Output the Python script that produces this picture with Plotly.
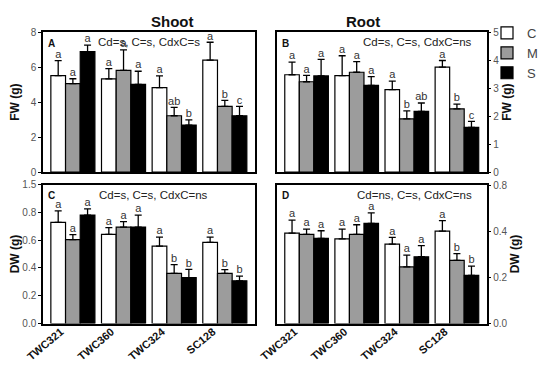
import numpy as np
import plotly.graph_objects as go

genotypes = ["TWC321", "TWC360", "TWC324", "SC128"]
treatments = ["C", "M", "S"]
bar_colors = {"C": "#ffffff", "M": "#9c9c9c", "S": "#000000"}

# Panel A: Shoot FW (g)
shoot_fw = {"C": [5.52, 5.33, 4.83, 6.41], "M": [5.06, 5.82, 3.22, 3.76], "S": [6.89, 5.02, 2.69, 3.22]}
shoot_fw_err = {"C": [0.86, 0.59, 0.67, 1.02], "M": [0.28, 1.17, 0.48, 0.34], "S": [0.38, 0.75, 0.29, 0.54]}
shoot_fw_let = {"C": ["a", "a", "a", "a"], "M": ["a", "a", "ab", "b"], "S": ["a", "a", "b", "c"]}

# Panel B: Root FW (g)
root_fw = {"C": [3.48, 3.45, 2.95, 3.75], "M": [3.23, 3.57, 1.90, 2.26], "S": [3.44, 3.10, 2.17, 1.60]}
root_fw_err = {"C": [0.45, 0.71, 0.30, 0.24], "M": [0.23, 0.38, 0.29, 0.17], "S": [0.59, 0.31, 0.30, 0.21]}
root_fw_let = {"C": ["a", "a", "a", "a"], "M": ["a", "a", "b", "b"], "S": ["a", "a", "ab", "c"]}

# Panel C: Shoot DW (g)
shoot_dw = {"C": [0.728, 0.641, 0.557, 0.584], "M": [0.603, 0.694, 0.360, 0.360], "S": [0.780, 0.694, 0.330, 0.307]}
shoot_dw_err = {"C": [0.082, 0.049, 0.065, 0.038], "M": [0.037, 0.039, 0.063, 0.027], "S": [0.044, 0.086, 0.060, 0.034]}
shoot_dw_let = {"C": ["a", "a", "a", "a"], "M": ["a", "a", "b", "b"], "S": ["a", "a", "b", "b"]}

# Panel D: Root DW (g)
root_dw = {"C": [0.393, 0.368, 0.345, 0.401], "M": [0.387, 0.387, 0.246, 0.274], "S": [0.370, 0.435, 0.290, 0.209]}
root_dw_err = {"C": [0.056, 0.042, 0.029, 0.046], "M": [0.023, 0.042, 0.051, 0.030], "S": [0.033, 0.046, 0.048, 0.040]}
root_dw_let = {"C": ["a", "a", "a", "a"], "M": ["a", "a", "a", "b"], "S": ["a", "a", "a", "b"]}

stats_text = ["Cd=s, C=s, CdxC=s", "Cd=s, C=s, CdxC=ns", "Cd=s, C=s, CdxC=ns", "Cd=ns, C=s, CdxC=ns"]
panel_letters = ["A", "B", "C", "D"]

# y-axis ticks (the original figure labels its top ticks as printed)
fw_shoot_ticks = [0, 2, 4, 6, 8]
fw_root_ticks = [0, 1, 2, 3, 4, 5]
dw_shoot_tickvals = [0.0, 0.2, 0.4, 0.6, 0.8, 1.0]
dw_shoot_ticktext = ["0.0", "0.2", "0.4", "0.6", "0.8", "1.5"]
dw_root_tickvals = [0.0, 0.2, 0.4, 0.6]
dw_root_ticktext = ["0.0", "0.2", "0.4", "0.8"]

FONT = "Liberation Sans, Arial, sans-serif"
W, H = 550, 366
bw = 0.29
xidx = np.arange(len(genotypes))

panels = [
    (shoot_fw, shoot_fw_err, shoot_fw_let, "x", "y"),
    (root_fw, root_fw_err, root_fw_let, "x2", "y2"),
    (shoot_dw, shoot_dw_err, shoot_dw_let, "x3", "y3"),
    (root_dw, root_dw_err, root_dw_let, "x4", "y4"),
]

fig = go.Figure()
for p, (vals, errs, lets, xa, ya) in enumerate(panels):
    for k, t in enumerate(treatments):
        xs = xidx + (k - 1) * bw
        v = np.array(vals[t])
        e = np.array(errs[t])
        fig.add_trace(go.Bar(
            x=xs, y=v, width=bw, name=t, xaxis=xa, yaxis=ya,
            marker=dict(color=bar_colors[t], line=dict(color="black", width=1.2)),
            error_y=dict(type="data", array=e, arrayminus=np.zeros_like(e), symmetric=False,
                         color="black", thickness=1.3, width=3.5),
            showlegend=(p == 0), legendgroup=t,
        ))
        fig.add_trace(go.Scatter(
            x=xs, y=v + e, mode="text", text=lets[t], textposition="top center",
            textfont=dict(family=FONT, size=11, color="#333333"),
            xaxis=xa, yaxis=ya, showlegend=False, hoverinfo="skip", cliponaxis=False,
        ))

dom_x = [[35 / W, 246.7 / W], [269 / W, 478.5 / W]]
dom_y_top = [(H - 164) / H, (H - 24.3) / H]
dom_y_bot = [(H - 315.5) / H, (H - 176.5) / H]

axis_common = dict(showline=True, linecolor="black", linewidth=1.5, mirror=True,
                   showgrid=False, zeroline=False, automargin=False)
xr = [-0.59, 3.59]
tickfont = dict(family=FONT, size=10, color="#555555")
xtickfont = dict(family=FONT, size=11, color="#111111", weight="bold")
ytitlefont = dict(family=FONT, size=12, color="#111111", weight="bold")

fig.update_layout(
    width=W, height=H, margin=dict(l=0, r=0, t=0, b=0),
    plot_bgcolor="white", paper_bgcolor="white",
    barmode="overlay",
    font=dict(family=FONT),
    xaxis=dict(domain=dom_x[0], anchor="y", range=xr, showticklabels=False, ticks="",
               tickvals=list(xidx), **axis_common),
    xaxis2=dict(domain=dom_x[1], anchor="y2", range=xr, showticklabels=False, ticks="",
                tickvals=list(xidx), **axis_common),
    xaxis3=dict(domain=dom_x[0], anchor="y3", range=xr, ticks="", tickvals=list(xidx),
                ticktext=genotypes, tickangle=-40, tickfont=xtickfont, ticklabelstandoff=-4,
                ticklabelshift=-12, **axis_common),
    xaxis4=dict(domain=dom_x[1], anchor="y4", range=xr, ticks="", tickvals=list(xidx),
                ticktext=genotypes, tickangle=-40, tickfont=xtickfont, ticklabelstandoff=-4,
                ticklabelshift=-12, **axis_common),
    yaxis=dict(domain=dom_y_top, anchor="x", range=[0, 8], tickvals=fw_shoot_ticks,
               ticks="outside", ticklen=3, tickcolor="black", tickfont=tickfont,
               title=dict(text="FW (g)", font=ytitlefont, standoff=10), **axis_common),
    yaxis2=dict(domain=dom_y_top, anchor="x2", side="right", range=[0, 5], tickvals=fw_root_ticks,
                ticks="outside", ticklen=3, tickcolor="black", tickfont=tickfont,
                title=dict(text="FW (g)", font=ytitlefont, standoff=4), **axis_common),
    yaxis3=dict(domain=dom_y_bot, anchor="x3", range=[0, 1.0], tickvals=dw_shoot_tickvals,
                ticktext=dw_shoot_ticktext, ticks="outside", ticklen=3, tickcolor="black",
                tickfont=tickfont, title=dict(text="DW (g)", font=ytitlefont, standoff=4), **axis_common),
    yaxis4=dict(domain=dom_y_bot, anchor="x4", side="right", range=[0, 0.604], tickvals=dw_root_tickvals,
                ticktext=dw_root_ticktext, ticks="outside", ticklen=3, tickcolor="black",
                tickfont=tickfont, title=dict(text="DW (g)", font=ytitlefont, standoff=0), **axis_common),
    legend=dict(x=479 / W, y=1 - 10 / H, xanchor="left", yanchor="top",
                font=dict(family=FONT, size=13, color="#444444"), tracegroupgap=0,
                itemwidth=30, bgcolor="rgba(0,0,0,0)", itemclick=False, borderwidth=0),
)

# Column titles
for txt, xd in [("Shoot", dom_x[0]), ("Root", dom_x[1])]:
    fig.add_annotation(text="<b>" + txt + "</b>", x=(xd[0] + xd[1]) / 2, y=1 - 13 / H,
                       xref="paper", yref="paper", showarrow=False,
                       font=dict(family=FONT, size=15, color="#111111"), yanchor="middle")

# Panel letters and statistics
refs = [("x domain", "y domain"), ("x2 domain", "y2 domain"), ("x3 domain", "y3 domain"), ("x4 domain", "y4 domain")]
stat_pos = [(0.5, "center"), (0.94, "right"), (0.52, "center"), (0.94, "right")]
for i, (xr_, yr_) in enumerate(refs):
    fig.add_annotation(text="<b>" + panel_letters[i] + "</b>", x=0.015, y=0.975, xref=xr_, yref=yr_,
                       xanchor="left", yanchor="top", showarrow=False,
                       font=dict(family=FONT, size=10, color="#111111"))
    fig.add_annotation(text=stats_text[i], x=stat_pos[i][0], y=0.985, xref=xr_, yref=yr_,
                       xanchor=stat_pos[i][1], yanchor="top", showarrow=False,
                       font=dict(family=FONT, size=11.5, color="#222222"))

fig.write_html("out.html")
